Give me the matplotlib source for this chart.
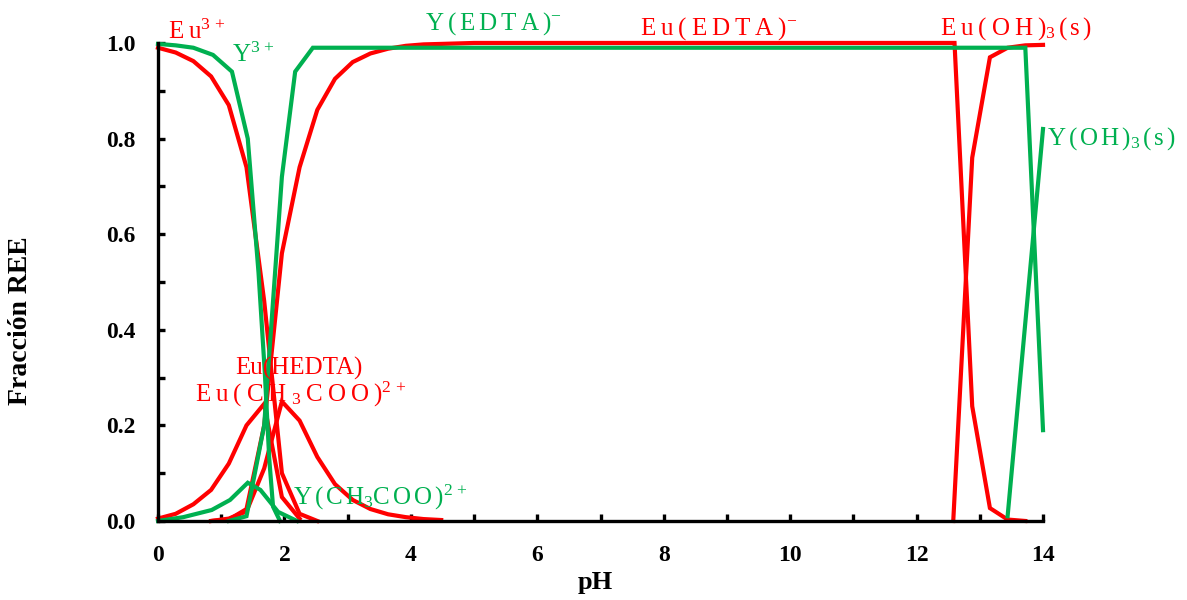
import matplotlib
matplotlib.use("Agg")
import matplotlib.pyplot as plt
from matplotlib.ticker import MultipleLocator, FormatStrFormatter

plt.rcParams['font.family'] = ['Liberation Serif', 'DejaVu Serif']
plt.rcParams['mathtext.fontset'] = 'custom'
plt.rcParams['mathtext.rm'] = 'Liberation Serif'
plt.rcParams['mathtext.it'] = 'Liberation Serif:italic'
plt.rcParams['mathtext.bf'] = 'Liberation Serif:bold'

RED = '#FF0000'
GREEN = '#00B050'

# Europium species (pH, fraction)
eu3_ph = [0.0, 0.28, 0.56, 0.84, 1.12, 1.40, 1.68, 1.96, 2.24, 2.52]
eu3_fr = [0.99, 0.98, 0.962, 0.93, 0.87, 0.74, 0.46, 0.10, 0.015, 0.0]

eu_ac_ph = [0.0, 0.28, 0.56, 0.84, 1.12, 1.40, 1.68, 1.96, 2.24]
eu_ac_fr = [0.005, 0.015, 0.035, 0.065, 0.12, 0.20, 0.245, 0.05, 0.005]

eu_hedta_ph = [0.84, 1.12, 1.40, 1.68, 1.96, 2.24, 2.52, 2.80, 3.08, 3.36, 3.64, 3.92, 4.20, 4.48]
eu_hedta_fr = [0.0, 0.005, 0.02, 0.11, 0.25, 0.21, 0.134, 0.077, 0.044, 0.025, 0.014, 0.008, 0.004, 0.002]

eu_edta_ph = [0.84, 1.12, 1.40, 1.68, 1.96, 2.24, 2.52, 2.80, 3.08, 3.36, 3.64, 3.92,
              4.20, 4.48, 5.0, 12.60, 12.88, 13.16, 13.44, 13.72]
eu_edta_fr = [0.0, 0.003, 0.025, 0.20, 0.56, 0.74, 0.86, 0.925, 0.96, 0.978, 0.988, 0.994,
              0.997, 0.998, 1.0, 1.0, 0.24, 0.027, 0.003, 0.0]

eu_oh_ph = [12.58, 12.88, 13.16, 13.44, 13.72, 14.0]
eu_oh_fr = [0.0, 0.76, 0.97, 0.99, 0.995, 0.996]

# Yttrium species (pH, fraction)
y3_ph = [0.0, 0.28, 0.56, 0.87, 1.17, 1.42, 1.59, 1.69, 1.76, 1.82, 1.93]
y3_fr = [0.998, 0.995, 0.99, 0.975, 0.94, 0.80, 0.52, 0.31, 0.13, 0.03, 0.0]

y_ac_ph = [0.0, 0.40, 0.85, 1.14, 1.42, 1.62, 1.90, 2.20]
y_ac_fr = [0.0, 0.008, 0.023, 0.044, 0.08, 0.065, 0.019, 0.0]

y_edta_ph = [1.12, 1.40, 1.68, 1.96, 2.17, 2.45, 13.72, 14.0]
y_edta_fr = [0.0, 0.01, 0.20, 0.72, 0.94, 0.99, 0.99, 0.19]

y_oh_ph = [13.44, 14.0]
y_oh_fr = [0.01, 0.82]

fig = plt.figure(figsize=(11.87, 6.0), dpi=100)
ax = fig.add_axes([0.1331, 0.1317, 0.7456, 0.7967])

lw = 3.0
series = [
    (eu3_ph, eu3_fr, RED), (eu_ac_ph, eu_ac_fr, RED), (eu_hedta_ph, eu_hedta_fr, RED),
    (eu_edta_ph, eu_edta_fr, RED), (eu_oh_ph, eu_oh_fr, RED),
    (y3_ph, y3_fr, GREEN), (y_ac_ph, y_ac_fr, GREEN), (y_edta_ph, y_edta_fr, GREEN),
    (y_oh_ph, y_oh_fr, GREEN),
]
for xs, ys, c in series:
    ax.plot(xs, ys, color=c, lw=lw, clip_on=False, solid_joinstyle='miter')

ax.set_xlim(0, 14)
ax.set_ylim(0, 1.0)
for side in ('top', 'right'):
    ax.spines[side].set_visible(False)
for side in ('left', 'bottom'):
    ax.spines[side].set_linewidth(2.4)
    ax.spines[side].set_color('black')

ax.xaxis.set_major_locator(MultipleLocator(2))
ax.xaxis.set_minor_locator(MultipleLocator(1))
ax.yaxis.set_major_locator(MultipleLocator(0.2))
ax.yaxis.set_minor_locator(MultipleLocator(0.1))
ax.yaxis.set_major_formatter(FormatStrFormatter('%.1f'))
ax.tick_params(which='both', direction='in', width=2.4, length=5, color='black')
ax.tick_params(axis='y', which='major', pad=16)
ax.tick_params(axis='x', which='major', pad=17)
for lab in ax.get_xticklabels() + ax.get_yticklabels():
    lab.set_fontweight('bold')
    lab.set_fontsize(17)

ax.set_xlabel('pH', fontsize=19, fontweight='bold')
ax.xaxis.set_label_coords(0.494, -0.105)
ax.set_ylabel('Fracción REE', fontsize=20, fontweight='bold')
ax.yaxis.set_label_coords(-0.141, 0.42)

fs = 18
labels = [
    (0.16, 1.023, r'$\mathrm{E\;u^{3\,+}}$', RED),
    (1.17, 0.975, r'$\mathrm{Y^{3\,+}}$', GREEN),
    (4.22, 1.04, r'$\mathrm{Y\:(\:E\:D\:T\:A\:)^{-}}$', GREEN),
    (7.63, 1.03, r'$\mathrm{E\;u\;(\;E\;D\;T\;A\;)^{-}}$', RED),
    (12.37, 1.03, r'$\mathrm{E\;u\;(\;O\;H\;)_{3}\,(\,s\,)}$', RED),
    (14.07, 0.80, r'$\mathrm{Y\,(\,O\,H\,)_{3}\,(\,s\,)}$', GREEN),
    (1.22, 0.32, 'Eu(HEDTA)', RED),
    (0.585, 0.264, r'$\mathrm{E\;u\;(\;C\;H\;_{3}\;C\;O\;O\;)^{2\,+}}$', RED),
    (2.14, 0.05, r'$\mathrm{Y\,(\,C\,H_{3}C\,O\,O\,)^{2\,+}}$', GREEN),
]
for x, y, s, c in labels:
    ax.text(x, y, s, color=c, fontsize=fs, ha='left', va='center')

fig.savefig('out.png', dpi=100)
